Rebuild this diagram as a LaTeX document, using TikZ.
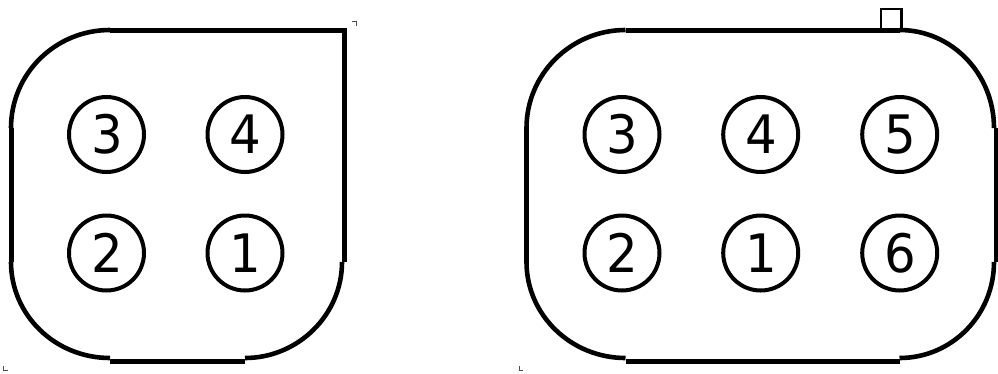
\documentclass[tikz,border=0pt]{standalone}
\usepackage{fontspec}
\setmainfont{DejaVu Sans}
\newfontfamily\pinfont[FakeStretch=0.94]{DejaVu Sans}
\newcommand{\pinnum}[1]{\raisebox{-3pt}{\hspace{1.5pt}#1}}
\tikzset{
  outline/.style={line width=4.6pt},
  wall/.style={line width=5pt},
  pin/.style={circle,draw,line width=4pt,minimum size=75pt,inner sep=0pt,
    font=\pinfont\fontsize{53}{53}\selectfont},
  tick/.style={line width=1pt,black!70}
}
\begin{document}
\begin{tikzpicture}[x=1pt,y=-1pt]
    \useasboundingbox (0,0) rectangle (998,373);

    % four way housing
    \coordinate (a0) at (110,30);
    \coordinate (a1) at (344.5,30);
    \coordinate (a2) at (344.5,262);
    \coordinate (a3) at (342,262);
    \coordinate (a4) at (245,358);
    \coordinate (a5) at (245,361);
    \coordinate (a6) at (110,361);
    \coordinate (a7) at (110,358);
    \coordinate (a8) at (11,262);
    \coordinate (a9) at (11,128);

    \draw[wall] (a0) -- (a1) -- (a2);
    \draw[outline] (a3) .. controls (342,315) and (298,358) .. (a4);
    \draw[wall] (a5) -- (a6);
    \draw[outline] (a7) .. controls (55,358) and (11,315) .. (a8);
    \draw[wall] (a8) -- (a9);
    \draw[outline] (a9) .. controls (11,74) and (55,30) .. (a0);

    \node[pin] (p3) at (106.5,134.5) {\pinnum{3}};
    \node[pin] (p4) at (245,134.5) {\pinnum{4}};
    \node[pin] (p2) at (106.5,253) {\pinnum{2}};
    \node[pin] (p1) at (245,253) {\pinnum{1}};

    % six way housing
    \coordinate (b0) at (625.5,30);
    \coordinate (b1) at (899.5,30);
    \coordinate (b2) at (994,128);
    \coordinate (b3) at (996.5,128);
    \coordinate (b4) at (996.5,262);
    \coordinate (b5) at (994,262);
    \coordinate (b6) at (899.5,358);
    \coordinate (b7) at (899.5,361);
    \coordinate (b8) at (625.5,361);
    \coordinate (b9) at (625.5,358);
    \coordinate (b10) at (526.5,262);
    \coordinate (b11) at (526.5,128);

    \draw[wall] (b0) -- (b1);
    \draw[outline] (b1) .. controls (952,30) and (994,74) .. (b2);
    \draw[wall] (b3) -- (b4);
    \draw[outline] (b5) .. controls (994,315) and (952,358) .. (b6);
    \draw[wall] (b7) -- (b8);
    \draw[outline] (b9) .. controls (571,358) and (526.5,315) .. (b10);
    \draw[wall] (b10) -- (b11);
    \draw[outline] (b11) .. controls (526.5,74) and (571,30) .. (b0);

    % latch
    \draw[line width=2.6pt] (881,30) -- (881,9) -- (901.7,9) -- (901.7,30);

    \node[pin] (q3) at (622,134.5) {\pinnum{3}};
    \node[pin] (q4) at (760.7,134.5) {\pinnum{4}};
    \node[pin] (q5) at (899.7,134.5) {\pinnum{5}};
    \node[pin] (q2) at (622,253) {\pinnum{2}};
    \node[pin] (q1) at (760.7,253) {\pinnum{1}};
    \node[pin] (q6) at (899.7,253) {\pinnum{6}};

    % small corner marks
    \draw[tick] (352,21.5) -- (356.5,21.5) -- (356.5,26);
    \draw[tick] (3.5,366) -- (3.5,370.5) -- (7.5,370.5);
    \draw[tick] (519,366) -- (519,370.5) -- (523,370.5);
  \end{tikzpicture}
\end{document}
